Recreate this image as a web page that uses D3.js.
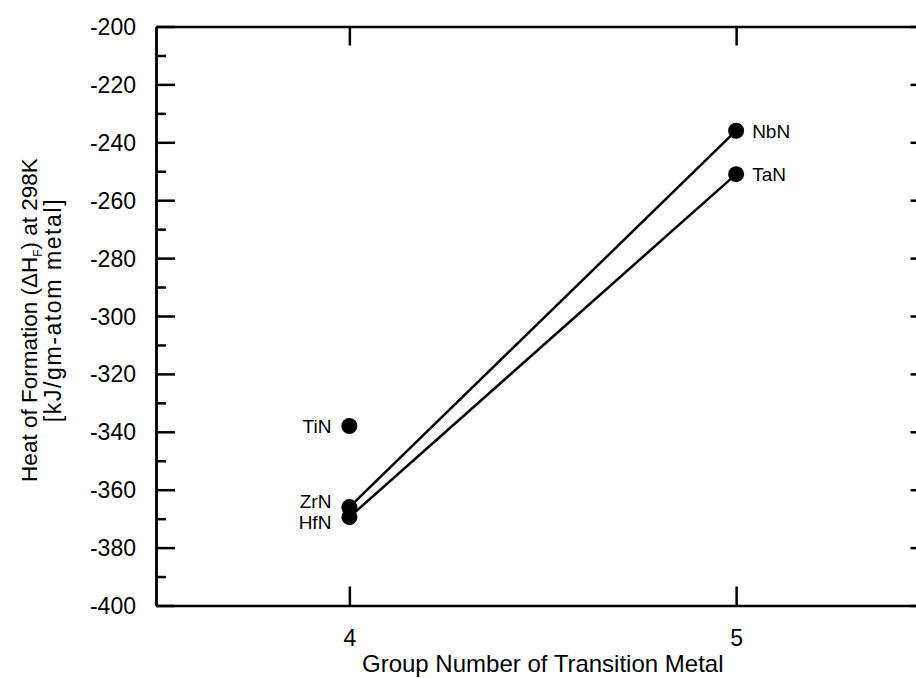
<!DOCTYPE html>
<html>
<head>
<meta charset="utf-8">
<script src="https://cdn.jsdelivr.net/npm/d3@7"></script>
<style>
  body { margin: 0; background: #fff; }
  svg { display: block; font-family: "Liberation Sans", Arial, sans-serif; }
</style>
</head>
<body>
<svg></svg>
<script>
// Data
let compounds = ["TiN", "ZrN", "HfN", "NbN", "TaN"];
let groups = [4, 4, 4, 5, 5];
let heats = [-338, -366, -369.5, -236, -251];
// pairs joined by a line (index into compounds)
let links = [[1, 3], [2, 4]];
let yMajorTicks = [-400, -380, -360, -340, -320, -300, -280, -260, -240, -220, -200];
let yMinorTicks = [-390, -370, -350, -330, -310, -290, -270, -250, -230, -210];
let xTicks = [4, 5];

// Size
let width = 916;
let height = 678;
let plotLeft = 156;
let plotRight = 929.5;
let plotTop = 26.5;
let plotBottom = 605.5;

let svg = d3.select("svg").attr("width", width).attr("height", height);

let xScale = d3.scaleLinear().domain([3.5, 5.5]).range([plotLeft, plotRight]);
let yScale = d3.scaleLinear().domain([-400, -200]).range([plotBottom, plotTop]);

let fmt = (d) => String(d);

// Axes
let drawAxes = () => {
	let gL = svg.append("g").attr("transform", "translate(" + plotLeft + ",0)")
		.call(d3.axisLeft(yScale).tickValues(yMajorTicks).tickFormat(fmt).tickSizeInner(-19).tickSizeOuter(0).tickPadding(20));
	let gLm = svg.append("g").attr("transform", "translate(" + plotLeft + ",0)")
		.call(d3.axisLeft(yScale).tickValues(yMinorTicks).tickFormat("").tickSizeInner(-10).tickSizeOuter(0));
	let gR = svg.append("g").attr("transform", "translate(" + plotRight + ",0)")
		.call(d3.axisRight(yScale).tickValues(yMajorTicks).tickFormat("").tickSizeInner(-19).tickSizeOuter(0));
	let gB = svg.append("g").attr("transform", "translate(0," + plotBottom + ")")
		.call(d3.axisBottom(xScale).tickValues(xTicks).tickFormat(fmt).tickSizeInner(-19).tickSizeOuter(0));
	let gT = svg.append("g").attr("transform", "translate(0," + plotTop + ")")
		.call(d3.axisTop(xScale).tickValues(xTicks).tickFormat("").tickSizeInner(-19).tickSizeOuter(0));

	[gL, gLm, gR, gB, gT].forEach((g) => {
		g.selectAll("path.domain").attr("stroke", "#000").attr("stroke-width", 2.5);
		g.selectAll(".tick line").attr("stroke", "#000").attr("stroke-width", 2.5);
		g.selectAll(".tick text").attr("fill", "#000").style("font-size", "23px");
	});
	gL.selectAll(".tick text").attr("dy", "0.35em");
	gB.selectAll(".tick text").attr("y", 40).attr("dy", 0);
};

let drawTitles = () => {
	svg.append("text")
		.attr("x", (plotLeft + plotRight) / 2)
		.attr("y", 672)
		.attr("text-anchor", "middle")
		.style("font-size", "24px")
		.text("Group Number of Transition Metal");

	let cy = (plotTop + plotBottom) / 2;
	let t1 = svg.append("text")
		.attr("transform", "translate(37," + (cy + 4) + ") rotate(-90)")
		.attr("text-anchor", "middle")
		.style("font-size", "22.5px");
	t1.append("tspan").text("Heat of Formation (\u0394H");
	t1.append("tspan").text("F").style("font-size", "12px").attr("dy", "5");
	t1.append("tspan").text(") at 298K").attr("dy", "-5");

	svg.append("text")
		.attr("transform", "translate(61," + (cy - 6) + ") rotate(-90)")
		.attr("text-anchor", "middle")
		.style("font-size", "23px")
		.style("letter-spacing", "1.6px")
		.text("[kJ/gm-atom metal]");
};

let drawData = () => {
	svg.append("g").selectAll("line").data(links).join("line")
		.attr("x1", (d) => xScale(groups[d[0]]))
		.attr("y1", (d) => yScale(heats[d[0]]))
		.attr("x2", (d) => xScale(groups[d[1]]))
		.attr("y2", (d) => yScale(heats[d[1]]))
		.attr("stroke", "#000")
		.attr("stroke-width", 2.5);

	svg.append("g").selectAll("circle").data(compounds).join("circle")
		.attr("cx", (d, i) => xScale(groups[i]))
		.attr("cy", (d, i) => yScale(heats[i]))
		.attr("r", 8)
		.attr("fill", "#000");

	// labels: left of group 4 points, right of group 5 points
	let labelShift = { TiN: 0, ZrN: -6, HfN: 5, NbN: 0, TaN: 0 };
	svg.append("g").selectAll("text").data(compounds).join("text")
		.attr("x", (d, i) => xScale(groups[i]) + (groups[i] === 4 ? -18 : 16))
		.attr("y", (d, i) => yScale(heats[i]) + labelShift[d])
		.attr("dy", "0.36em")
		.attr("text-anchor", (d, i) => (groups[i] === 4 ? "end" : "start"))
		.style("font-size", "19px")
		.text((d) => d);
};

drawAxes();
drawTitles();
drawData();
</script>
</body>
</html>
